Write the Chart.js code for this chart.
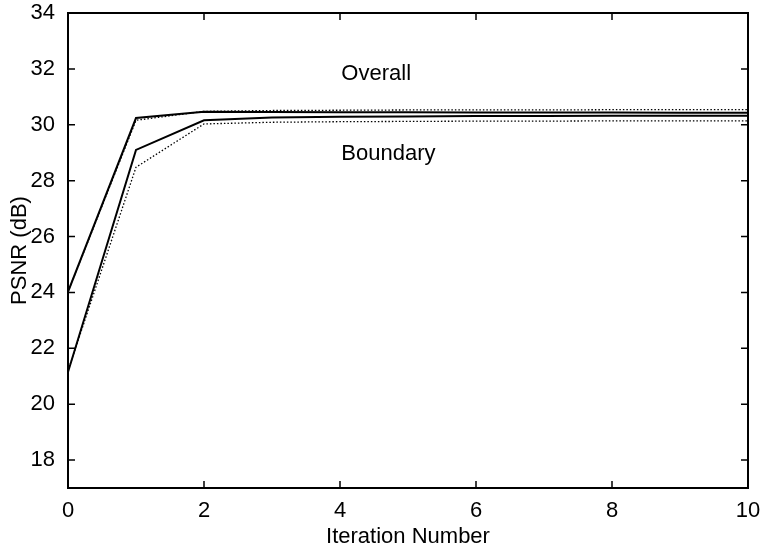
<!DOCTYPE html>
<html>
<head>
<meta charset="utf-8">
<script src="https://cdn.jsdelivr.net/npm/chart.js@4.4.1/dist/chart.umd.min.js"></script>
<style>
  html, body { margin: 0; padding: 0; background: #fff; }
  #wrap { width: 764px; height: 555px; }
</style>
</head>
<body>
<div id="wrap"><canvas id="psnrChart" width="764" height="555"></canvas></div>
<script>
// iteration numbers on the x axis
const iterations = [0, 1, 2, 3, 4, 5, 6, 7, 8, 9, 10];

// PSNR values (dB)
const overallSolid = [24.02, 30.24, 30.47, 30.46, 30.45, 30.45, 30.44, 30.44, 30.44, 30.43, 30.43];
const overallDotted = [24.02, 30.16, 30.48, 30.51, 30.52, 30.53, 30.53, 30.53, 30.54, 30.54, 30.54];
const boundarySolid = [21.15, 29.1, 30.16, 30.26, 30.29, 30.3, 30.31, 30.31, 30.32, 30.32, 30.32];
const boundaryDotted = [21.2, 28.48, 30.03, 30.09, 30.11, 30.12, 30.13, 30.13, 30.14, 30.14, 30.14];

const xTicks = [0, 2, 4, 6, 8, 10];
const yTicks = [18, 20, 22, 24, 26, 28, 30, 32, 34];

// text labels placed in data coordinates
const labelTexts = ["Overall", "Boundary"];
const labelX = [4.02, 4.02];
const labelY = [31.61, 28.75];

const FONT = "'Liberation Sans', Arial, Helvetica, sans-serif";

const toPoints = (ys) => iterations.map((x, i) => ({ x: x, y: ys[i] }));

// frame, inward ticks and text labels
const framePlugin = {
  id: "frame",
  afterDatasetsDraw(chart) {
    const { ctx, chartArea: a, scales } = chart;
    const xs = scales.x;
    const ys = scales.y;
    const tl = 7;
    ctx.save();
    ctx.strokeStyle = "#000";
    ctx.lineWidth = 1.5;
    ctx.beginPath();
    xTicks.forEach((v) => {
      const px = xs.getPixelForValue(v);
      ctx.moveTo(px, a.bottom);
      ctx.lineTo(px, a.bottom - tl);
      ctx.moveTo(px, a.top);
      ctx.lineTo(px, a.top + tl);
    });
    yTicks.forEach((v) => {
      const py = ys.getPixelForValue(v);
      ctx.moveTo(a.left, py);
      ctx.lineTo(a.left + tl, py);
      ctx.moveTo(a.right, py);
      ctx.lineTo(a.right - tl, py);
    });
    ctx.stroke();
    ctx.lineWidth = 2;
    ctx.strokeRect(a.left, a.top, a.right - a.left, a.bottom - a.top);

    ctx.fillStyle = "#000";
    ctx.font = "22px " + FONT;
    ctx.textAlign = "left";
    ctx.textBaseline = "alphabetic";
    labelTexts.forEach((t, i) => {
      ctx.fillText(t, xs.getPixelForValue(labelX[i]), ys.getPixelForValue(labelY[i]));
    });
    ctx.restore();
  },
};

const ctx = document.getElementById("psnrChart").getContext("2d");

new Chart(ctx, {
  type: "line",
  data: {
    datasets: [
      {
        label: "Overall",
        data: toPoints(overallSolid),
        borderColor: "#000",
        borderWidth: 2,
      },
      {
        label: "Overall (dotted)",
        data: toPoints(overallDotted),
        borderColor: "#000",
        borderWidth: 1.3,
        borderDash: [1.5, 2],
      },
      {
        label: "Boundary",
        data: toPoints(boundarySolid),
        borderColor: "#000",
        borderWidth: 2,
      },
      {
        label: "Boundary (dotted)",
        data: toPoints(boundaryDotted),
        borderColor: "#000",
        borderWidth: 1.3,
        borderDash: [1.5, 2],
      },
    ],
  },
  options: {
    responsive: false,
    animation: false,
    devicePixelRatio: 1,
    layout: { padding: { left: 0, right: 16, top: 13, bottom: 0 } },
    elements: {
      point: { radius: 0 },
      line: { tension: 0, fill: false },
    },
    plugins: {
      legend: { display: false },
      tooltip: { enabled: false },
    },
    scales: {
      x: {
        type: "linear",
        min: 0,
        max: 10,
        grid: { display: false },
        border: { display: false },
        afterBuildTicks: (scale) => {
          scale.ticks = xTicks.map((v) => ({ value: v }));
        },
        afterFit: (scale) => {
          scale.height = 67;
          scale.paddingLeft = 0;
          scale.paddingRight = 0;
        },
        ticks: {
          padding: 2,
          maxRotation: 0,
          color: "#000",
          font: { family: FONT, size: 22 },
        },
        title: {
          display: true,
          text: "Iteration Number",
          color: "#000",
          font: { family: FONT, size: 22 },
          padding: { top: 0, bottom: 5 },
        },
      },
      y: {
        type: "linear",
        min: 17,
        max: 34,
        grid: { display: false },
        border: { display: false },
        afterBuildTicks: (scale) => {
          scale.ticks = yTicks.map((v) => ({ value: v }));
        },
        afterFit: (scale) => {
          scale.width = 68;
          scale.paddingTop = 0;
          scale.paddingBottom = 0;
        },
        ticks: {
          padding: 5,
          color: "#000",
          font: { family: FONT, size: 22 },
        },
        title: {
          display: true,
          text: "PSNR (dB)",
          color: "#000",
          font: { family: FONT, size: 22 },
          padding: { top: 7, bottom: 0 },
        },
      },
    },
  },
  plugins: [framePlugin],
});
</script>
</body>
</html>
